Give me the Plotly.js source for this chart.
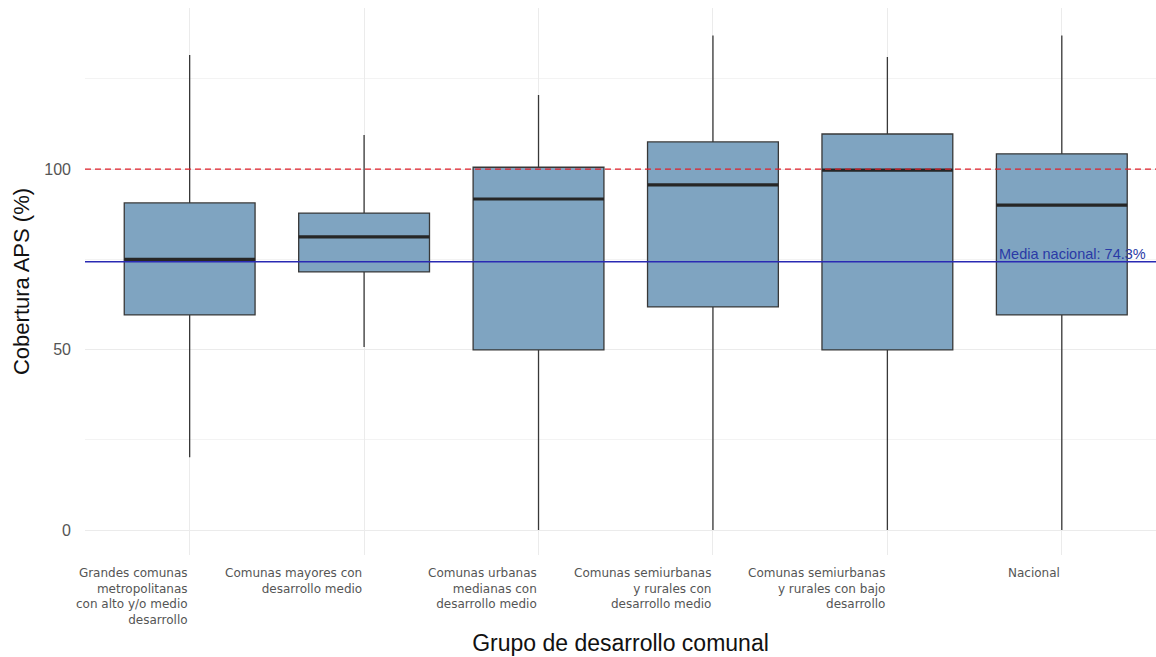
<!DOCTYPE html>
<html>
<head>
<meta charset="utf-8">
<script src="https://cdn.plot.ly/plotly-3.0.1.min.js"></script>
<style>html,body{margin:0;padding:0;background:#fff;}#chart{width:1156px;height:657px;}</style>
</head>
<body>
<div id="chart"></div>
<script>
const categories = [
  "Grandes comunas<br>metropolitanas<br>con alto y/o medio<br>desarrollo",
  "Comunas mayores con<br>desarrollo medio",
  "Comunas urbanas<br>medianas con<br>desarrollo medio",
  "Comunas semiurbanas<br>y rurales con<br>desarrollo medio",
  "Comunas semiurbanas<br>y rurales con bajo<br>desarrollo",
  "Nacional"
];
const lowerWhisker = [20.2, 50.7, 0, 0, 0, 0];
const q1Values     = [59.6, 71.5, 49.9, 61.8, 49.9, 59.6];
const medianValues = [75.0, 81.2, 91.7, 95.6, 99.7, 90.0];
const q3Values     = [90.6, 87.8, 100.5, 107.5, 109.7, 104.2];
const upperWhisker = [131.6, 109.4, 120.5, 137.0, 131.0, 137.0];
const yTicks = [0, 50, 100];
const targetLine = [100];
const nationalMean = [74.3];
const meanLabel = "Media nacional: 74.3%";

const positions = categories.map((c, i) => i);
const halfWidth = 0.375;

const boxTrace = {
  type: 'box',
  x: positions,
  q1: q1Values,
  median: medianValues,
  q3: q3Values,
  lowerfence: lowerWhisker,
  upperfence: upperWhisker,
  width: 2 * halfWidth,
  whiskerwidth: 0,
  fillcolor: '#7fa4c1',
  line: {color: '#383838', width: 1.3},
  boxpoints: false,
  hoverinfo: 'y',
  showlegend: false
};

const mx = [], my = [];
positions.forEach((p, i) => {
  mx.push(p - halfWidth, p + halfWidth, null);
  my.push(medianValues[i], medianValues[i], null);
});
const medianTrace = {
  type: 'scatter', mode: 'lines', x: mx, y: my,
  line: {color: '#262626', width: 3.2},
  hoverinfo: 'skip', showlegend: false
};

const shapes = [
  {type: 'line', xref: 'paper', x0: 0, x1: 1, yref: 'y', y0: targetLine[0], y1: targetLine[0],
   line: {color: '#e0202a', width: 1.3, dash: '6px,4px'}, layer: 'above'},
  {type: 'line', xref: 'paper', x0: 0, x1: 1, yref: 'y', y0: nationalMean[0], y1: nationalMean[0],
   line: {color: '#2a2ab3', width: 1.4}, layer: 'above'}
];

const annotations = categories.map((c, i) => ({
  xref: 'x', x: positions[i], yref: 'paper', y: 0,
  xanchor: 'right', yanchor: 'top', align: 'right', yshift: -9,
  text: c, showarrow: false,
  font: {family: 'DejaVu Sans, sans-serif', size: 12, color: '#555555'}
}));
annotations.push({
  xref: 'paper', x: 1, yref: 'y', y: nationalMean[0],
  xanchor: 'right', yanchor: 'bottom', xshift: -8, yshift: -2,
  text: meanLabel, showarrow: false,
  font: {family: 'Arial, Liberation Sans, sans-serif', size: 14.5, color: '#2a3aa6'}
});

const layout = {
  width: 1156, height: 657,
  margin: {l: 85, r: 0, t: 8, b: 102},
  paper_bgcolor: '#ffffff', plot_bgcolor: '#ffffff',
  font: {family: 'Arial, Liberation Sans, sans-serif'},
  xaxis: {
    range: [-0.6, 5.54],
    tickvals: positions, ticktext: categories.map(() => ''),
    showgrid: true, gridcolor: '#ebebeb', gridwidth: 1,
    zeroline: false, showline: false, ticks: '',
    title: {text: 'Grupo de desarrollo comunal', font: {size: 23, color: '#111111'}, standoff: 79}
  },
  yaxis: {
    range: [-6.9, 144.6],
    tickvals: yTicks,
    showgrid: true, gridcolor: '#ebebeb', gridwidth: 1,
    minor: {dtick: 25, tick0: 0, showgrid: true, gridcolor: '#f3f3f3', gridwidth: 1},
    zeroline: false, showline: false, ticks: '',
    ticklabelstandoff: 13,
    tickfont: {size: 16, color: '#555555'},
    title: {text: 'Cobertura APS (%)', font: {size: 22, color: '#111111'}, standoff: 8}
  },
  shapes: shapes,
  annotations: annotations,
  showlegend: false
};

Plotly.newPlot('chart', [boxTrace, medianTrace], layout, {displayModeBar: false, staticPlot: true});
</script>
</body>
</html>
